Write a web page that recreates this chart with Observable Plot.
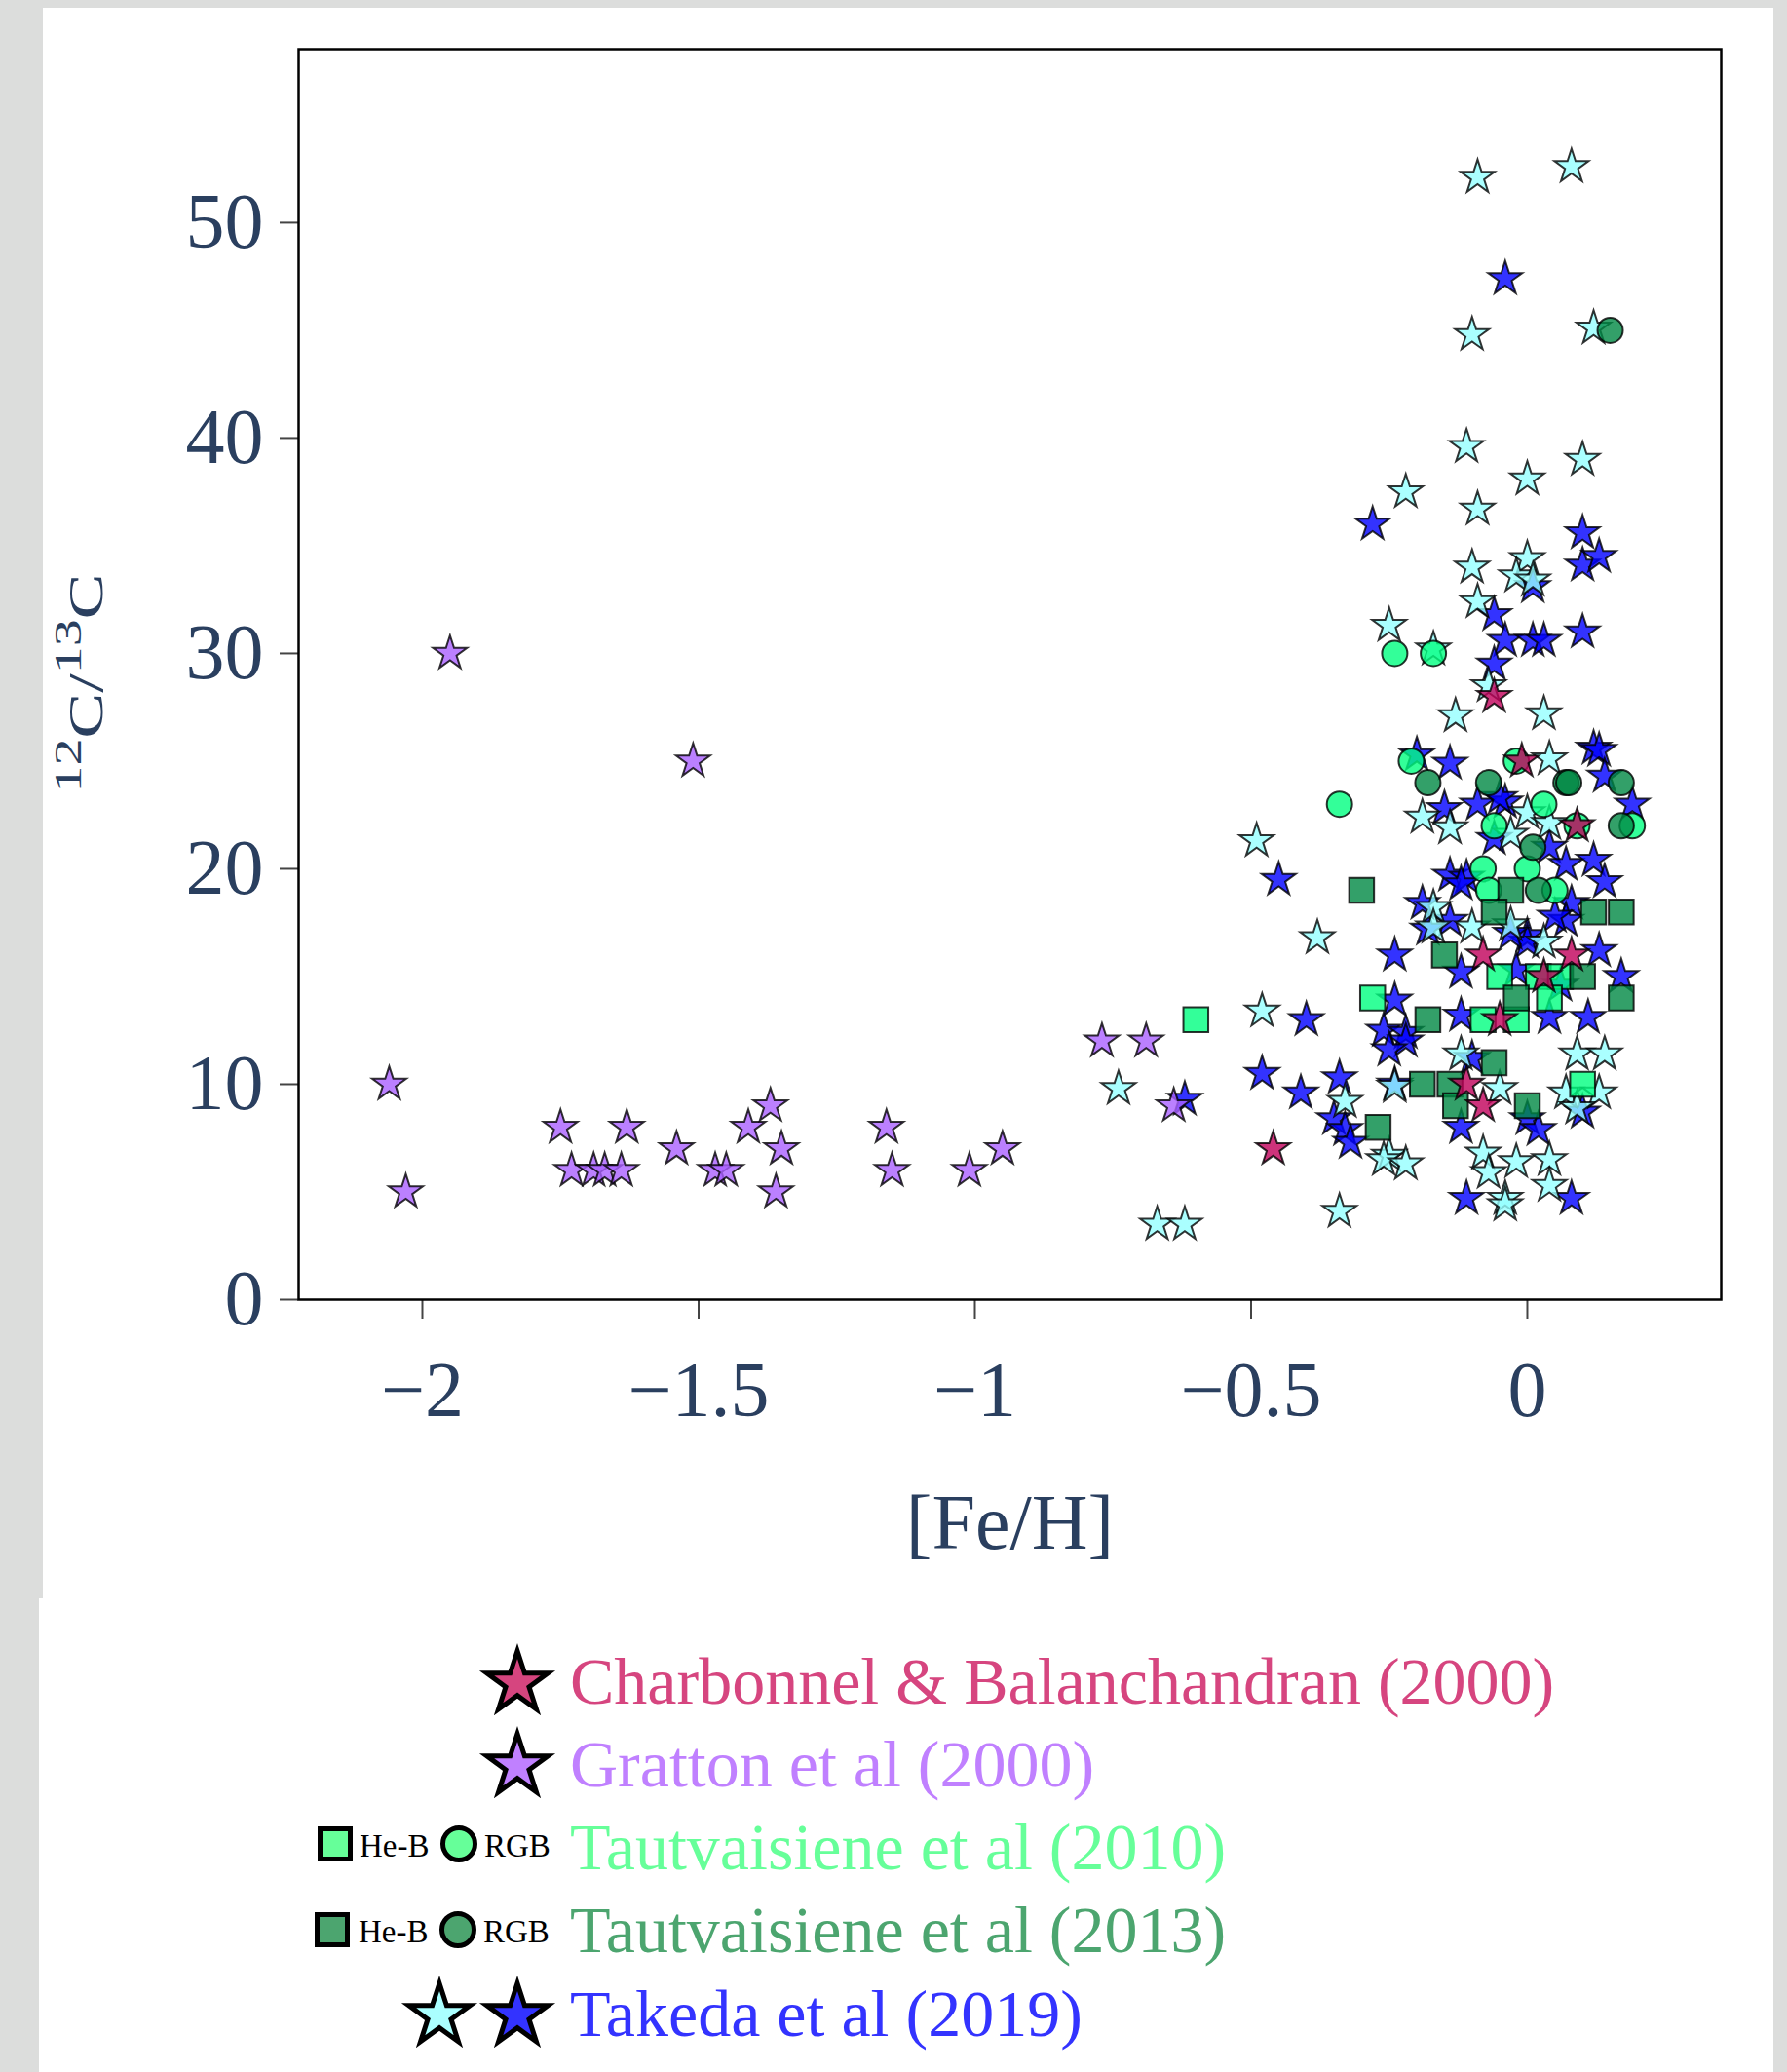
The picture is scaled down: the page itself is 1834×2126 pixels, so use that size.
<!DOCTYPE html>
<html><head><meta charset="utf-8">
<script src="https://cdn.jsdelivr.net/npm/d3@7"></script>
<script src="https://cdn.jsdelivr.net/npm/@observablehq/plot@0.6"></script>
<style>
html,body{margin:0;padding:0;background:#dcdddc;}
body{width:1834px;height:2126px;position:relative;overflow:hidden;font-family:"Liberation Serif",serif;}
#panel1{position:absolute;left:44px;top:8px;width:1776px;height:1632px;background:#fff;}
#panel2{position:absolute;left:40px;top:1640px;width:1780px;height:486px;background:#fff;}
#chart{position:absolute;left:0;top:0;}
#legend{position:absolute;left:0;top:1640px;}
</style></head><body>
<div id="panel1"></div><div id="panel2"></div>
<div id="chart"></div>
<svg id="legend" width="1834" height="486"></svg>
<script>
// ---- data: [ [Fe/H], 12C/13C ] ----
const charbonnel = [[-0.06,28],[-0.01,25],[0.09,22],[-0.08,16],[0.08,16],[0.03,15],[-0.05,13],[-0.11,10],[-0.08,9],[-0.46,7]];
const gratton = [[-1.95,30],[-1.51,25],[-2.06,10],[-2.03,5],[-1.75,8],[-1.63,8],[-1.73,6],[-1.69,6],[-1.67,6],[-1.64,6],[-1.54,7],[-1.47,6],[-1.45,6],[-1.41,8],[-1.37,9],[-1.35,7],[-1.36,5],[-1.16,8],[-1.15,6],[-1.01,6],[-0.95,7],[-0.77,12],[-0.69,12],[-0.64,9]];
const taut2010HeB = [[-0.60,13],[-0.28,14],[-0.05,15],[0.02,15],[0.06,15],[0.04,14],[-0.08,13],[-0.02,13],[0.10,10]];
const taut2010RGB = [[-0.34,23],[-0.24,30],[-0.17,30],[-0.21,25],[-0.02,25],[0.03,23],[-0.06,22],[0.09,22],[0.19,22],[-0.08,20],[0.00,20],[-0.07,19],[0.05,19]];
const taut2013HeB = [[-0.30,19],[-0.03,19],[-0.06,18],[0.12,18],[0.17,18],[-0.15,16],[0.10,15],[-0.02,14],[0.17,14],[-0.18,13],[-0.06,11],[-0.19,10],[-0.14,10],[-0.13,9],[0.00,9],[-0.27,8]];
const taut2013RGB = [[0.15,45],[-0.18,24],[-0.07,24],[0.07,24],[0.075,24],[0.17,24],[0.17,22],[0.01,21],[0.02,19]];
const takedaLight = [[-0.09,52.1],[0.08,52.6],[-0.10,44.8],[0.12,45.1],[-0.11,39.6],[0.10,39.0],[0.00,38.1],[-0.22,37.5],[-0.09,36.7],[-0.10,34.0],[0.00,34.4],[-0.02,33.6],[0.01,33.4],[-0.09,32.4],[-0.25,31.3],[-0.17,30.2],[-0.07,28.5],[-0.13,27.1],[0.03,27.2],[0.04,25.1],[-0.19,22.4],[-0.14,21.9],[0.00,22.6],[0.04,22.1],[-0.03,21.6],[-0.49,21.3],[-0.38,16.8],[-0.17,18.2],[-0.17,17.3],[-0.10,17.3],[-0.03,17.4],[0.03,16.6],[-0.48,13.4],[-0.12,11.4],[0.09,11.4],[0.14,11.4],[-0.74,9.8],[-0.33,9.2],[-0.24,9.9],[-0.05,9.8],[0.07,9.6],[0.13,9.6],[0.09,8.9],[-0.25,6.7],[-0.26,6.5],[-0.22,6.3],[-0.08,6.8],[-0.07,5.9],[-0.02,6.4],[0.04,6.5],[0.04,5.3],[-0.04,4.7],[-0.04,4.4],[-0.67,3.5],[-0.62,3.5],[-0.34,4.1]];
const takedaDark = [[-0.04,47.4],[-0.28,36.0],[0.10,35.6],[0.10,34.1],[0.13,34.5],[0.01,33.1],[-0.06,31.8],[-0.04,30.6],[0.01,30.6],[0.03,30.6],[0.10,31.0],[-0.06,29.5],[-0.20,25.3],[-0.14,24.9],[0.12,25.6],[0.13,25.5],[0.14,24.3],[-0.09,23.0],[-0.04,23.1],[-0.05,23.3],[-0.15,22.8],[0.19,23.0],[-0.06,21.4],[0.04,21.0],[0.07,20.2],[0.12,20.4],[0.14,19.4],[-0.14,19.7],[-0.11,19.6],[-0.12,19.3],[-0.45,19.5],[-0.19,18.4],[-0.18,17.2],[0.08,18.4],[0.07,17.6],[0.05,17.8],[0.00,16.9],[0.00,16.6],[-0.03,17.0],[-0.14,17.6],[-0.24,16.0],[0.13,16.2],[0.17,15.0],[-0.12,15.2],[-0.02,15.3],[0.06,14.6],[-0.24,13.9],[-0.12,13.2],[0.04,13.1],[0.11,13.1],[-0.40,13.0],[-0.26,12.5],[-0.22,12.4],[-0.22,12.0],[-0.25,11.6],[-0.10,11.2],[-0.48,10.5],[-0.41,9.6],[-0.34,10.3],[-0.62,9.3],[-0.24,10.0],[-0.35,8.4],[-0.33,7.9],[-0.32,7.3],[0.00,8.4],[0.02,7.9],[0.10,8.7],[-0.12,8.0],[-0.11,4.7],[0.08,4.7]];

const xTicks = [-2, -1.5, -1, -0.5, 0];
const yTicks = [0, 10, 20, 30, 40, 50];
const xDomain = [-2.224, 0.351];
const yDomain = [0, 58.05];

const legendItems = [
  {label: "Charbonnel & Balanchandran (2000)", color: "#d6457f"},
  {label: "Gratton et al (2000)", color: "#c080ff"},
  {label: "Tautvaisiene et al (2010)", color: "#66ff99"},
  {label: "Tautvaisiene et al (2013)", color: "#4ca56f"},
  {label: "Takeda et al (2019)", color: "#3333ff"}
];

// ---- chart ----
const rows = arr => arr.map(([feh, ratio]) => ({feh, ratio}));
const fmt = d => d < 0 ? "\u2212" + Math.abs(d) : String(d);
const FONT = "'Liberation Serif', 'Times New Roman', serif";
const common = {x: "feh", y: "ratio", fillOpacity: 0.8, stroke: "#000", strokeOpacity: 0.8, strokeWidth: 2};

const plot = Plot.plot({
  width: 1834, height: 1640,
  marginLeft: 306, marginRight: 68, marginTop: 50, marginBottom: 307,
  style: {fontFamily: FONT, fontSize: "80px", color: "#2a3f5f", background: "transparent", overflow: "visible"},
  x: {domain: xDomain},
  y: {domain: yDomain},
  marks: [
    Plot.axisX({ticks: xTicks, tickFormat: fmt, tickSize: 20, tickPadding: 43, stroke: "#444", strokeWidth: 2, fill: "#2a3f5f", label: null}),
    Plot.axisY({ticks: yTicks, tickFormat: fmt, tickSize: 19, tickPadding: 17, stroke: "#444", strokeWidth: 2, fill: "#2a3f5f", label: null}),
    Plot.dot(rows(takedaDark), {...common, symbol: "star", r: 11, fill: "#0000ff"}),
    Plot.dot(rows(takedaLight), {...common, symbol: "star", r: 11, fill: "#95ffff"}),
    Plot.dot(rows(gratton), {...common, symbol: "star", r: 11, fill: "#aa60ff"}),
    Plot.dot(rows(taut2010RGB), {...common, symbol: "circle", r: 13, fill: "#00ff80"}),
    Plot.dot(rows(taut2010HeB), {...common, symbol: "square", r: 14.4, fill: "#00ff80"}),
    Plot.dot(rows(taut2013RGB), {...common, symbol: "circle", r: 13, fill: "#008844"}),
    Plot.dot(rows(taut2013HeB), {...common, symbol: "square", r: 14.4, fill: "#008844"}),
    Plot.dot(rows(charbonnel), {...common, symbol: "star", r: 11, fill: "#c0005a"}),
    Plot.frame({stroke: "#000", strokeWidth: 2.5}),
    Plot.text(["[Fe/H]"], {text: d => d, frameAnchor: "bottom", dy: 230, lineAnchor: "middle", fontSize: 80, fill: "#2a3f5f"})
  ]
});
document.getElementById("chart").appendChild(plot);

// y-axis title with superscripts
const yt = d3.select(plot).append("text")
  .attr("transform", "translate(105,701) rotate(-90) scale(1.4,1)")
  .attr("text-anchor", "middle").attr("fill", "#2a3f5f")
  .attr("font-family", FONT).attr("font-size", 50);
yt.append("tspan").attr("font-size", 40).attr("dy", -22).text("12");
yt.append("tspan").attr("dy", 22).text("C/");
yt.append("tspan").attr("font-size", 40).attr("dy", -22).text("13");
yt.append("tspan").attr("dy", 22).text("C");

// ---- legend ----
const leg = d3.select("#legend");
const starD = d3.symbol(d3.symbolStar, 33 * 33 / 0.8908)();
const baselines = [108, 193, 278, 363, 449];
const star = (x, y, fill) => leg.append("path").attr("d", starD).attr("transform", `translate(${x},${y})`)
  .attr("fill", fill).attr("stroke", "#000").attr("stroke-width", 5).attr("stroke-linejoin", "miter");
star(531, baselines[0] - 21, "#d6457f");
star(531, baselines[1] - 21, "#c080ff");
star(451, baselines[4] - 21, "#aaffff");
star(531, baselines[4] - 21, "#3333ff");
function subIcons(y, fill, sqx, hx, cx, rx) {
  leg.append("rect").attr("x", sqx - 15.5).attr("y", y - 15.5).attr("width", 31).attr("height", 31)
    .attr("fill", fill).attr("stroke", "#000").attr("stroke-width", 5);
  leg.append("circle").attr("cx", cx).attr("cy", y).attr("r", 16.5)
    .attr("fill", fill).attr("stroke", "#000").attr("stroke-width", 5);
  leg.append("text").attr("x", hx).attr("y", y + 13).attr("font-family", FONT).attr("font-size", 33).attr("fill", "#000").text("He-B");
  leg.append("text").attr("x", rx).attr("y", y + 13).attr("font-family", FONT).attr("font-size", 33).attr("fill", "#000").text("RGB");
}
subIcons(252, "#66ff99", 344, 369, 471, 497);
subIcons(340, "#4ca56f", 341, 368, 470, 496);
legendItems.forEach((d, i) => {
  leg.append("text").attr("x", 585).attr("y", baselines[i]).attr("font-family", FONT)
    .attr("font-size", 68).attr("fill", d.color).text(d.label);
});
</script>
</body></html>
